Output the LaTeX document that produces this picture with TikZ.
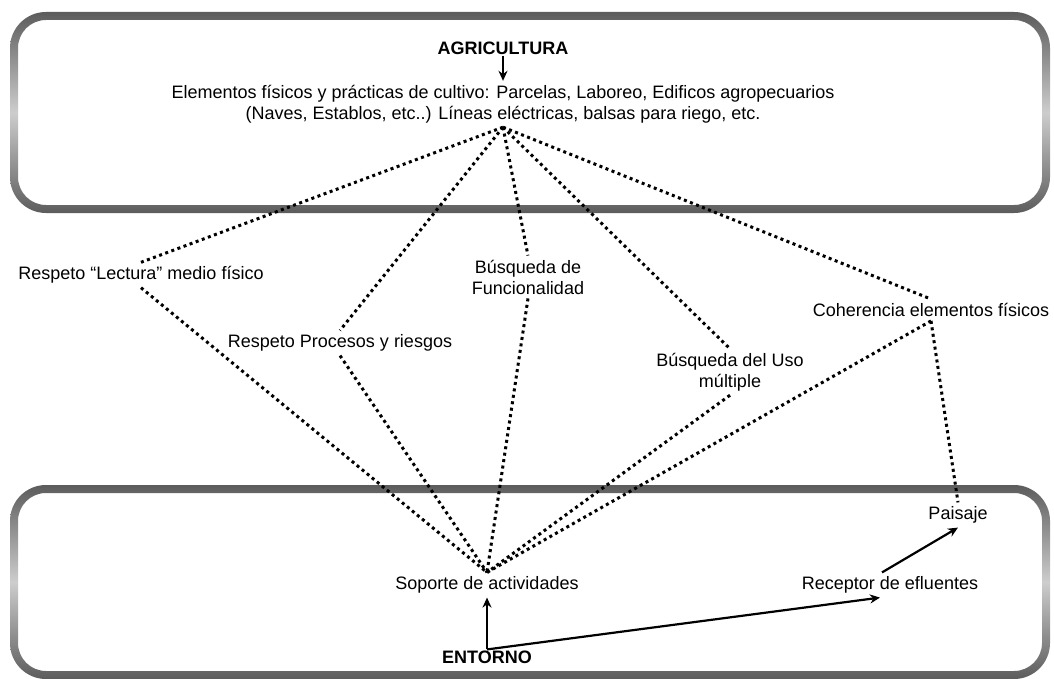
\documentclass[tikz,border=0pt]{standalone}
\usepackage{fontspec}
\setmainfont{Liberation Sans}
\usetikzlibrary{arrows.meta}
\definecolor{framedark}{RGB}{92,92,92}
\definecolor{framelight}{RGB}{205,205,205}
\begin{document}
\begin{tikzpicture}[x=1pt,y=-1pt,
        panel/.style={top color=framedark,bottom color=framedark,middle color=framelight,even odd rule},
        txt/.style={font=\fontsize{18}{21}\selectfont,inner sep=4pt,align=center},
        heading/.style={font=\fontsize{18}{21}\selectfont\bfseries,inner sep=1pt},
        tie/.style={line width=3pt,dash pattern=on 3pt off 3.5pt},
        flow/.style={-{Stealth[length=10pt,width=9pt]},line width=2.2pt},]
        \useasboundingbox (0,0) rectangle (1054,679);
        % the two frames
        \shade[panel] [rounded corners=36pt] (10,12) rectangle (1050,213) [rounded corners=28pt] (18,20) rectangle (1042,205);
        \shade[panel] [rounded corners=36pt] (10,485) rectangle (1050,679) [rounded corners=28pt] (18,493) rectangle (1042,671);
        \node[heading] (agri) at (503,48) {AGRICULTURA};
        \node[txt] (elem) at (503,104) {Elementos físicos y prácticas de cultivo: Parcelas, Laboreo, Edificos agropecuarios\\(Naves, Establos, etc..) Líneas eléctricas, balsas para riego, etc.};
        \node[txt] (lectura) at (141,275) {Respeto “Lectura” medio físico};
        \node[txt] (procesos) at (340,343) {Respeto Procesos y riesgos};
        \node[txt] (funcion) at (528,277) {Búsqueda de\\Funcionalidad};
        \node[txt] (uso) at (730,372) {Búsqueda del Uso\\múltiple};
        \node[txt] (coherencia) at (931,310) {Coherencia elementos físicos};
        \node[txt] (paisaje) at (958,515) {Paisaje};
        \node[txt] (soporte) at (487,585) {Soporte de actividades};
        \node[txt] (receptor) at (890,585) {Receptor de efluentes};
        \node[heading] (entorno) at (487,657) {ENTORNO};
        \draw[flow] (agri) -- (elem);
        \foreach \n in {lectura,procesos,funcion,uso,coherencia} {
            \draw[tie] (elem.south) -- (\n.north);
            \draw[tie] (\n.south) -- (soporte.north);
        }
        \draw[tie] (coherencia.south) -- (paisaje.north);
        \draw[flow] (entorno.north) -- (soporte.south);
        \draw[flow] (entorno.north) -- ([xshift=-10pt]receptor.south);
        \draw[flow] ([xshift=-8pt]receptor.north) -- (paisaje.south);
\end{tikzpicture}
\end{document}
